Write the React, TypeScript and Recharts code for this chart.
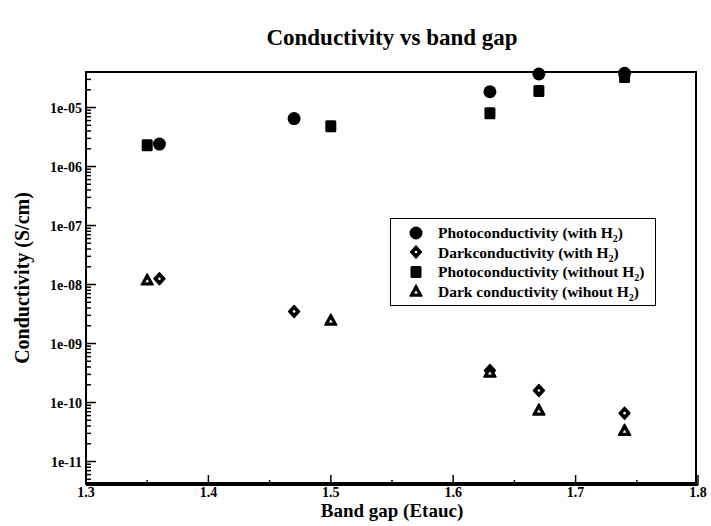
import { ScatterChart, Scatter, XAxis, YAxis } from 'recharts';

// band gap (Etauc) vs conductivity (S/cm)
const photoWithH2 = [
  { x: 1.36, y: 2.4e-6 },
  { x: 1.47, y: 6.5e-6 },
  { x: 1.63, y: 1.85e-5 },
  { x: 1.67, y: 3.7e-5 },
  { x: 1.74, y: 3.8e-5 },
];
const darkWithH2 = [
  { x: 1.36, y: 1.25e-8 },
  { x: 1.47, y: 3.5e-9 },
  { x: 1.63, y: 3.5e-10 },
  { x: 1.67, y: 1.6e-10 },
  { x: 1.74, y: 6.6e-11 },
];
const photoWithoutH2 = [
  { x: 1.35, y: 2.3e-6 },
  { x: 1.5, y: 4.8e-6 },
  { x: 1.63, y: 8e-6 },
  { x: 1.67, y: 1.9e-5 },
  { x: 1.74, y: 3.3e-5 },
];
const darkWithoutH2 = [
  { x: 1.35, y: 1.2e-8 },
  { x: 1.5, y: 2.5e-9 },
  { x: 1.63, y: 3.3e-10 },
  { x: 1.67, y: 7.5e-11 },
  { x: 1.74, y: 3.4e-11 },
];

const xMajorTicks = [1.3, 1.4, 1.5, 1.6, 1.7, 1.8];
const xMinorTicks = [1.35, 1.45, 1.55, 1.65, 1.75];
const yMajorTicks = [1e-11, 1e-10, 1e-9, 1e-8, 1e-7, 1e-6, 1e-5];
const yMantissas = [2, 3, 4, 5, 6, 7, 8, 9];
const xDomain: [number, number] = [1.3, 1.8];
const yDomain: [number, number] = [4e-12, 4e-5];

// minor log ticks (2..9 x decade) inside the domain
const yMinorTicks: number[] = [];
[1e-12, ...yMajorTicks].forEach((d) =>
  yMantissas.forEach((m) => {
    const v = m * d;
    if (v > yDomain[0] * 1.0001 && v < yDomain[1] * 0.9999) yMinorTicks.push(v);
  })
);

const xTicks = [...xMajorTicks, ...xMinorTicks].sort((a, b) => a - b);
const yTicks = [...yMajorTicks, ...yMinorTicks].sort((a, b) => a - b);

const FONT = '"Liberation Serif", "DejaVu Serif", serif';
const MAJOR = 10;
const MINOR = 5;

const isMajorX = (v: number) => xMajorTicks.some((t) => Math.abs(t - v) < 1e-6);
const isMajorY = (v: number) => yMajorTicks.some((t) => Math.abs(t - v) / t < 1e-6);

const fmtX = (v: number) => (Math.round(v * 10) / 10).toFixed(1);
const fmtY = (v: number) => {
  const e = Math.round(Math.log10(v));
  return `1e-${String(-e).padStart(2, '0')}`;
};

function BottomTick({ x, y, payload }: any) {
  const major = isMajorX(payload.value);
  return (
    <g>
      <line x1={x} y1={y} x2={x} y2={y - (major ? MAJOR : MINOR)} stroke="#000" strokeWidth={1.5} />
      {major && (
        <text x={x} y={y + 12} textAnchor="middle" fontFamily={FONT} fontWeight="bold" fontSize={14} fill="#000">
          {fmtX(payload.value)}
        </text>
      )}
    </g>
  );
}

function TopTick({ x, y, payload }: any) {
  const major = isMajorX(payload.value);
  return <line x1={x} y1={y} x2={x} y2={y + (major ? MAJOR : MINOR)} stroke="#000" strokeWidth={1.5} />;
}

function LeftTick({ x, y, payload }: any) {
  const major = isMajorY(payload.value);
  return (
    <g>
      <line x1={x} y1={y} x2={x + (major ? MAJOR : MINOR)} y2={y} stroke="#000" strokeWidth={1.5} />
      {major && (
        <text x={x - 4} y={y + 5} textAnchor="end" fontFamily={FONT} fontWeight="bold" fontSize={14} fill="#000">
          {fmtY(payload.value)}
        </text>
      )}
    </g>
  );
}

function RightTick({ x, y, payload }: any) {
  const major = isMajorY(payload.value);
  return <line x1={x} y1={y} x2={x - (major ? MAJOR : MINOR)} y2={y} stroke="#000" strokeWidth={1.5} />;
}

const CircleMark = ({ cx, cy }: any) => <circle cx={cx} cy={cy} r={6.5} fill="#000" />;
const SquareMark = ({ cx, cy }: any) => <rect x={cx - 5.5} y={cy - 6} width={11} height={12} rx={1.5} fill="#000" />;
const DiamondMark = ({ cx, cy }: any) => (
  <g>
    <polygon
      points={`${cx},${cy - 6} ${cx + 5.5},${cy} ${cx},${cy + 6} ${cx - 5.5},${cy}`}
      fill="#000"
      stroke="#000"
      strokeWidth={1.5}
      strokeLinejoin="round"
    />
    <circle cx={cx} cy={cy} r={1.3} fill="#fff" />
  </g>
);
const TriangleMark = ({ cx, cy }: any) => (
  <g>
    <polygon
      points={`${cx},${cy - 6} ${cx + 6},${cy + 5} ${cx - 6},${cy + 5}`}
      fill="#000"
      stroke="#000"
      strokeWidth={1.5}
      strokeLinejoin="round"
    />
    <polygon points={`${cx},${cy - 0.5} ${cx + 2},${cy + 2.5} ${cx - 2},${cy + 2.5}`} fill="#fff" />
  </g>
);
const Nothing = () => <g />;

const legendRows = [
  { label: 'Photoconductivity (with H', Mark: CircleMark },
  { label: 'Darkconductivity (with H', Mark: DiamondMark },
  { label: 'Photoconductivity (without H', Mark: SquareMark },
  { label: 'Dark conductivity (wihout H', Mark: TriangleMark },
];

function LegendBox() {
  return (
    <div
      style={{
        position: 'absolute',
        left: 390,
        top: 218,
        width: 266,
        boxSizing: 'border-box',
        border: '1.5px solid #000',
        background: '#fff',
        padding: '4px 0 4px 17px',
        fontFamily: FONT,
        fontWeight: 'bold',
        fontSize: 15.5,
        lineHeight: '19.5px',
        color: '#000',
      }}
    >
      {legendRows.map(({ label, Mark }) => (
        <div key={label} style={{ display: 'flex', alignItems: 'center', whiteSpace: 'nowrap' }}>
          <svg width={16} height={16} style={{ marginRight: 14 }}>
            <Mark cx={8} cy={8} />
          </svg>
          <span>
            {label}
            <sub style={{ fontSize: 10, lineHeight: 0 }}>2</sub>)
          </span>
        </div>
      ))}
    </div>
  );
}

export default function App() {
  return (
    <div style={{ position: 'absolute', left: 0, top: 0, width: 711, height: 526, background: '#fff' }}>
      <div
        style={{
          position: 'absolute',
          left: 86,
          width: 612,
          top: 25,
          textAlign: 'center',
          fontFamily: FONT,
          fontWeight: 'bold',
          fontSize: 23,
          lineHeight: '26px',
          color: '#000',
        }}
      >
        Conductivity vs band gap
      </div>
      <div
        style={{
          position: 'absolute',
          left: 86,
          width: 612,
          top: 501,
          textAlign: 'center',
          fontFamily: FONT,
          fontWeight: 'bold',
          fontSize: 19,
          lineHeight: '20px',
          color: '#000',
        }}
      >
        Band gap (Etauc)
      </div>
      <div
        style={{
          position: 'absolute',
          left: 22,
          top: 278,
          transform: 'translate(-50%, -50%) rotate(-90deg)',
          whiteSpace: 'nowrap',
          fontFamily: FONT,
          fontWeight: 'bold',
          fontSize: 20,
          color: '#000',
        }}
      >
        Conductivity (S/cm)
      </div>
      <ScatterChart width={711} height={526} margin={{ top: 72, right: 13, bottom: 0, left: 0 }}>
        <XAxis
          xAxisId="bottom"
          type="number"
          dataKey="x"
          domain={xDomain}
          ticks={xTicks}
          interval={0}
          height={41}
          tickSize={0}
          tickMargin={0}
          tickLine={false}
          axisLine={{ stroke: '#000', strokeWidth: 2 }}
          tick={(p: any) => <BottomTick {...p} />}
        />
        <XAxis
          xAxisId="top"
          orientation="top"
          type="number"
          dataKey="x"
          domain={xDomain}
          ticks={xTicks}
          interval={0}
          height={0}
          tickSize={0}
          tickMargin={0}
          tickLine={false}
          axisLine={{ stroke: '#000', strokeWidth: 2 }}
          tick={(p: any) => <TopTick {...p} />}
        />
        <YAxis
          yAxisId="left"
          type="number"
          dataKey="y"
          scale="log"
          domain={yDomain}
          ticks={yTicks}
          interval={0}
          width={86}
          tickSize={0}
          tickMargin={0}
          tickLine={false}
          axisLine={{ stroke: '#000', strokeWidth: 2 }}
          tick={(p: any) => <LeftTick {...p} />}
        />
        <YAxis
          yAxisId="right"
          orientation="right"
          type="number"
          dataKey="y"
          scale="log"
          domain={yDomain}
          ticks={yTicks}
          interval={0}
          width={0}
          tickSize={0}
          tickMargin={0}
          tickLine={false}
          axisLine={{ stroke: '#000', strokeWidth: 2 }}
          tick={(p: any) => <RightTick {...p} />}
        />
        <Scatter xAxisId="top" yAxisId="right" data={photoWithH2} shape={Nothing} legendType="none" isAnimationActive={false} />
        <Scatter xAxisId="bottom" yAxisId="left" name="Photoconductivity (with H2)" data={photoWithH2} shape={CircleMark} isAnimationActive={false} />
        <Scatter xAxisId="bottom" yAxisId="left" name="Darkconductivity (with H2)" data={darkWithH2} shape={DiamondMark} isAnimationActive={false} />
        <Scatter xAxisId="bottom" yAxisId="left" name="Photoconductivity (without H2)" data={photoWithoutH2} shape={SquareMark} isAnimationActive={false} />
        <Scatter xAxisId="bottom" yAxisId="left" name="Dark conductivity (wihout H2)" data={darkWithoutH2} shape={TriangleMark} isAnimationActive={false} />
      </ScatterChart>
      <div
        style={{
          position: 'absolute',
          left: 86,
          top: 72,
          width: 612,
          height: 413,
          boxSizing: 'border-box',
          border: '2px solid #000',
          pointerEvents: 'none',
          transform: 'translate(-1px, -1px)',
        }}
      />
      <LegendBox />
    </div>
  );
}
